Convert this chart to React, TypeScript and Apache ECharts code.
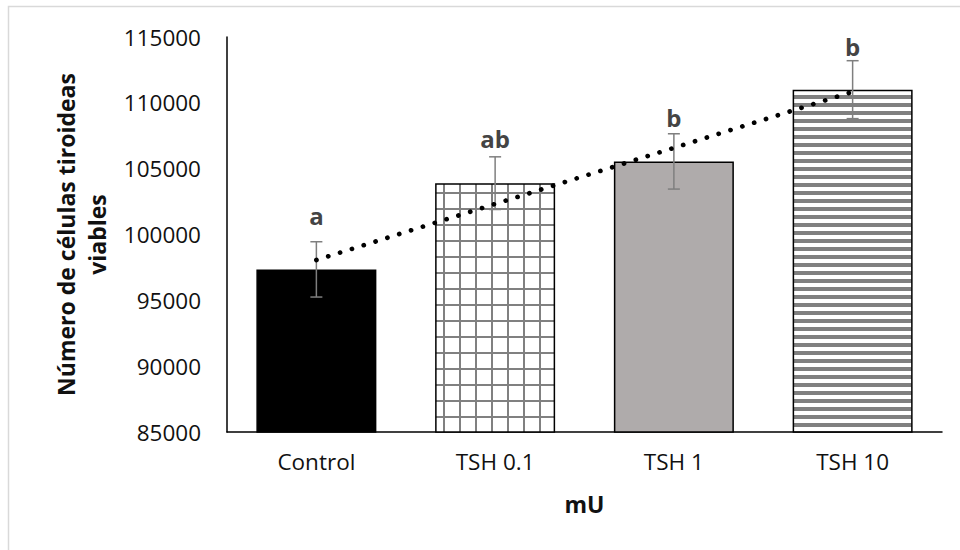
import React, { useEffect, useRef } from "react";
import * as echarts from "echarts";

const categories = ["Control", "TSH 0.1", "TSH 1", "TSH 10"];
const means = [97350, 103900, 105550, 111000];
const errors = [2100, 2000, 2100, 2200];
const letters = ["a", "ab", "b", "b"];
const letterLevels = [101460, 107280, 108850, 114290];
const yMin = 85000;
const yMax = 115000;
const yInterval = 5000;

const FONT = '"Open Sans", "Noto Sans", sans-serif';

function makeGridPattern() {
  const c = document.createElement("canvas");
  c.width = 16;
  c.height = 16;
  const g = c.getContext("2d")!;
  g.fillStyle = "#ffffff";
  g.fillRect(0, 0, 16, 16);
  g.fillStyle = "#808080";
  g.fillRect(11, 0, 2, 16);
  g.fillRect(0, 0, 16, 2);
  return { image: c, repeat: "repeat" };
}

function makeStripePattern() {
  const c = document.createElement("canvas");
  c.width = 8;
  c.height = 8;
  const g = c.getContext("2d")!;
  g.fillStyle = "#ffffff";
  g.fillRect(0, 0, 8, 8);
  g.fillStyle = "#808080";
  g.fillRect(0, 0, 8, 3);
  g.fillRect(0, 7, 8, 1);
  return { image: c, repeat: "repeat" };
}

function linearTrend(values: number[]) {
  const n = values.length;
  const xs = values.map((_, i) => i + 1);
  const mx = xs.reduce((a, b) => a + b, 0) / n;
  const my = values.reduce((a, b) => a + b, 0) / n;
  let num = 0;
  let den = 0;
  for (let i = 0; i < n; i++) {
    num += (xs[i] - mx) * (values[i] - my);
    den += (xs[i] - mx) * (xs[i] - mx);
  }
  const slope = num / den;
  const icpt = my - slope * mx;
  return xs.map((x) => icpt + slope * x);
}

export default function App() {
  const ref = useRef<HTMLDivElement>(null);

  useEffect(() => {
    if (!ref.current) return;
    const chart = echarts.init(ref.current, undefined, { renderer: "svg" });
    const fills: any[] = ["#000000", makeGridPattern(), "#afabab", makeStripePattern()];
    const trend = linearTrend(means);

    chart.setOption({
      animation: false,
      backgroundColor: "#ffffff",
      graphic: [
        {
          type: "rect",
          silent: true,
          z: -10,
          shape: { x: 8.5, y: 6.5, width: 980, height: 580 },
          style: { fill: "none", stroke: "#d9d9d9", lineWidth: 1.5 },
        },
      ],
      grid: { left: 227, right: 18, top: 37, bottom: 118, containLabel: false },
      xAxis: {
        type: "category",
        data: categories,
        axisTick: { show: false },
        axisLine: { show: true, lineStyle: { color: "#000", width: 1.5 } },
        axisLabel: { fontFamily: FONT, fontSize: 22.5, color: "#111", margin: 18 },
        name: "mU",
        nameLocation: "middle",
        nameGap: 60,
        nameTextStyle: { fontFamily: FONT, fontSize: 23, fontWeight: "bold", color: "#111" },
        splitLine: { show: false },
      },
      yAxis: {
        type: "value",
        min: yMin,
        max: yMax,
        interval: yInterval,
        axisLine: { show: true, lineStyle: { color: "#000", width: 1.5 } },
        axisTick: { show: false },
        splitLine: { show: false },
        axisLabel: {
          fontFamily: FONT,
          fontSize: 22.5,
          color: "#111",
          margin: 26,
          formatter: (v: number) => String(v),
        },
        name: "Número de células tiroideas\nviables",
        nameLocation: "middle",
        nameGap: 115,
        nameTextStyle: {
          fontFamily: FONT,
          fontSize: 23,
          fontWeight: "bold",
          color: "#111",
          lineHeight: 31,
        },
      },
      series: [
        {
          type: "bar",
          barWidth: 120,
          z: 2,
          data: means.map((v, i) => ({
            value: v,
            itemStyle: { color: fills[i], borderColor: "#000", borderWidth: 1.5 },
          })),
        },
        {
          type: "custom",
          z: 3,
          encode: { x: 0, y: [1, 2] },
          data: means.map((m, i) => [i, m - errors[i], m + errors[i], letterLevels[i]]),
          renderItem: (params: any, api: any) => {
            const i = api.value(0);
            const lo = api.coord([i, api.value(1)]);
            const hi = api.coord([i, api.value(2)]);
            const lb = api.coord([i, api.value(3)]);
            const x = lo[0];
            const hw = 6;
            const st = { stroke: "#7f7f7f", lineWidth: 1.5 };
            return {
              type: "group",
              children: [
                { type: "line", shape: { x1: x, y1: hi[1], x2: x, y2: lo[1] }, style: st },
                { type: "line", shape: { x1: x - hw, y1: hi[1], x2: x + hw, y2: hi[1] }, style: st },
                { type: "line", shape: { x1: x - hw, y1: lo[1], x2: x + hw, y2: lo[1] }, style: st },
                {
                  type: "text",
                  x: x,
                  y: lb[1],
                  style: {
                    text: letters[params.dataIndex],
                    textAlign: "center",
                    textVerticalAlign: "middle",
                    fill: "#444",
                    fontFamily: FONT,
                    fontSize: 24,
                    fontWeight: "bold",
                  },
                },
              ],
            };
          },
        },
        {
          type: "line",
          z: 4,
          data: trend,
          symbol: "none",
          lineStyle: { color: "#000", width: 4.7, type: [0.1, 12.3], cap: "round" },
        },
      ],
    });

    return () => chart.dispose();
  }, []);

  return (
    <div
      ref={ref}
      style={{ position: "absolute", left: 0, top: 0, width: 960, height: 550, background: "#fff" }}
    />
  );
}
